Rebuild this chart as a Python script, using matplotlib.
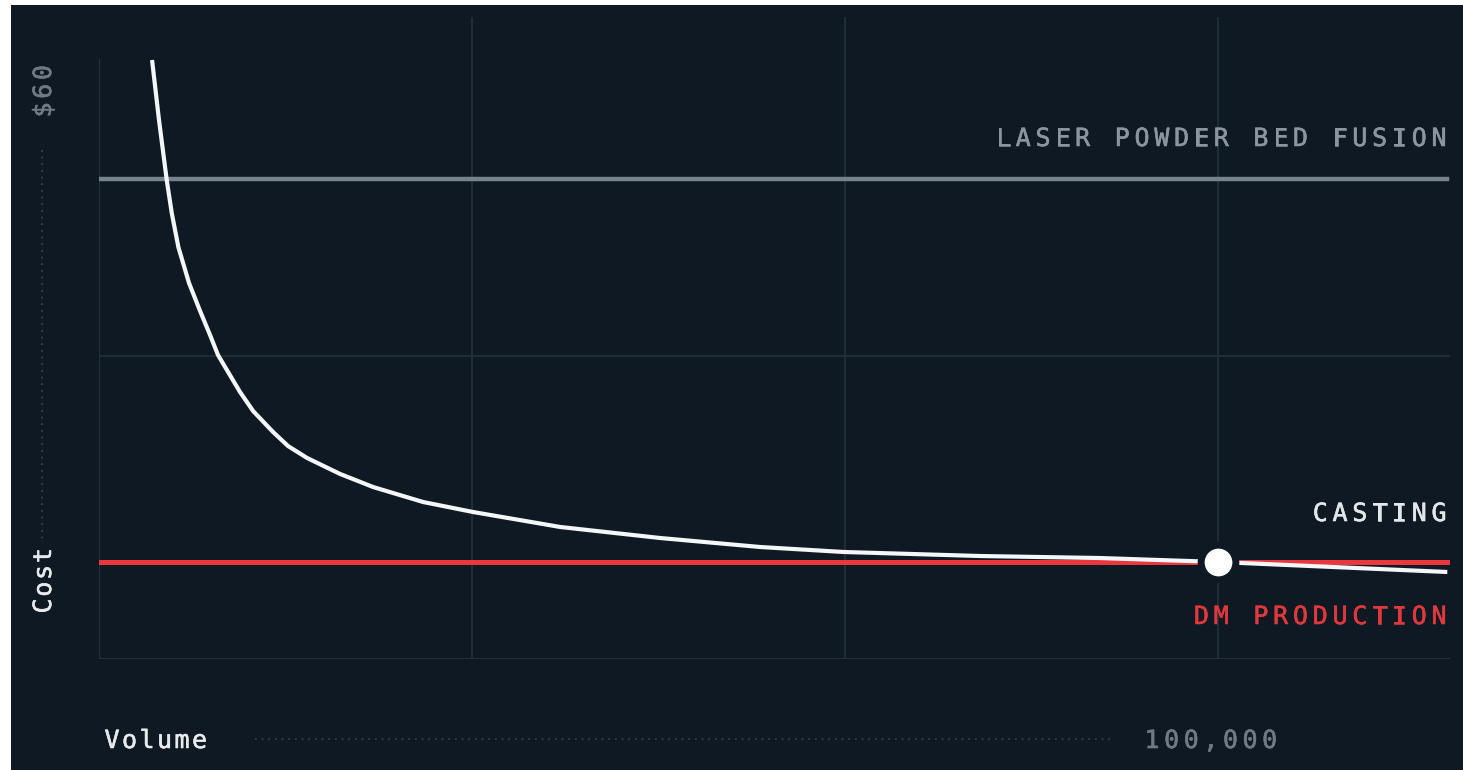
import matplotlib
matplotlib.use("Agg")
import matplotlib.pyplot as plt
import matplotlib.patheffects as pe
from matplotlib.patches import Rectangle
from matplotlib.lines import Line2D

# data (volume in thousands of parts, cost in $)
volume_k = [4.74, 5.36, 6.05, 6.50, 7.09, 8.04, 9.03, 9.92, 10.63, 11.86, 12.60,
            13.77, 15.55, 16.89, 18.59, 21.54, 24.49, 28.95, 33.42, 41.20, 50.13,
            59.07, 66.49, 78.73, 89.45, 100.0, 120.46]
casting_cost = [59.21, 53.28, 47.35, 44.08, 40.72, 37.17, 34.40, 32.03, 30.05, 27.76, 26.39,
                24.51, 22.44, 21.05, 19.87, 18.29, 17.00, 15.52, 14.53, 13.05, 11.96,
                11.07, 10.58, 10.18, 9.98, 9.59, 8.60]
lpbf_cost = 47.4
dm_cost = 9.6
breakeven_volume_k = 100.0
grid_x = [33.33, 66.67, 100.0]
grid_y = [30.0]

BG = "#0f1923"
GRID = "#243039"
W, H = 1463, 770

fig = plt.figure(figsize=(W / 100, H / 100), dpi=100, facecolor="white")
fig.patches.append(Rectangle((11 / W, 0), 1 - 11 / W, (H - 5) / H,
                             transform=fig.transFigure, facecolor=BG,
                             linewidth=0, zorder=-10))

ax = fig.add_axes([99 / W, (H - 659) / H, (1450 - 99) / W, (659 - 17) / H])
ax.patch.set_alpha(0)
ax.set_xlim(0, 120.7)
ax.set_ylim(0, 63.46)
for s in ax.spines.values():
    s.set_visible(False)
ax.set_xticks([])
ax.set_yticks([])

# grid
for gx in grid_x:
    ax.axvline(gx, color=GRID, lw=1.3, zorder=1)
for gy in grid_y:
    ax.axhline(gy, color=GRID, lw=1.3, zorder=1)
ax.axhline(0, color=GRID, lw=1.5, zorder=1)
ax.plot([0, 0], [0, 59.2], color=GRID, lw=1.5, zorder=1)

# lines
ax.axhline(lpbf_cost, xmax=1447 / 1450, color="#76828c", lw=3.2, zorder=2)
ax.axhline(dm_cost, color="#e8383d", lw=3.6, zorder=3)
ax.plot(volume_k, casting_cost, color="#f4f6f8", lw=3.0, zorder=4,
        solid_capstyle="butt", solid_joinstyle="round")
ax.plot([breakeven_volume_k], [dm_cost], "o", ms=25, mfc="white", mec=BG,
        mew=5, zorder=5)


def spaced(x, y, s, pitch, color, size=18, rotate=False, right=False):
    # monospace text with extra letter spacing, positions in pixels from top-left
    n = len(s)
    fx = [pe.withStroke(linewidth=0.4, foreground=color)]
    for i, ch in enumerate(s):
        if rotate:
            cx, cy = x, y - i * pitch
            fig.text(cx / W, 1 - cy / H, ch, color=color, fontsize=size,
                     family="DejaVu Sans Mono", rotation=90,
                     rotation_mode="anchor", ha="center", va="baseline",
                     path_effects=fx)
        else:
            k = i - (n - 1) if right else i
            cx = x + k * pitch
            fig.text(cx / W, 1 - y / H, ch, color=color, fontsize=size,
                     family="DejaVu Sans Mono", ha="center", va="baseline",
                     path_effects=fx)


spaced(1439, 146, "LASER POWDER BED FUSION", 19.8, "#8a959f", right=True)
spaced(1439, 521, "CASTING", 19.8, "#e4e7ea", right=True)
spaced(1439, 624, "DM PRODUCTION", 19.8, "#e0393d", right=True)
spaced(112, 748, "Volume", 17.5, "#e8eaec")
spaced(1152, 748, "100,000", 19.6, "#6f7a84")
spaced(51, 110, "$60", 18.7, "#6f7a84", rotate=True)
spaced(51, 606, "Cost", 16.8, "#e8eaec", rotate=True)

# dotted guides
fig.lines.append(Line2D([42 / W, 42 / W], [1 - 150 / H, 1 - 540 / H],
                        transform=fig.transFigure, color="#3a4651", lw=1.2,
                        linestyle=(0, (1, 3))))
fig.lines.append(Line2D([255 / W, 1115 / W], [1 - 739 / H, 1 - 739 / H],
                        transform=fig.transFigure, color="#3a4651", lw=1.2,
                        linestyle=(0, (1, 3))))

fig.savefig("out.png", dpi=100, facecolor=fig.get_facecolor())
